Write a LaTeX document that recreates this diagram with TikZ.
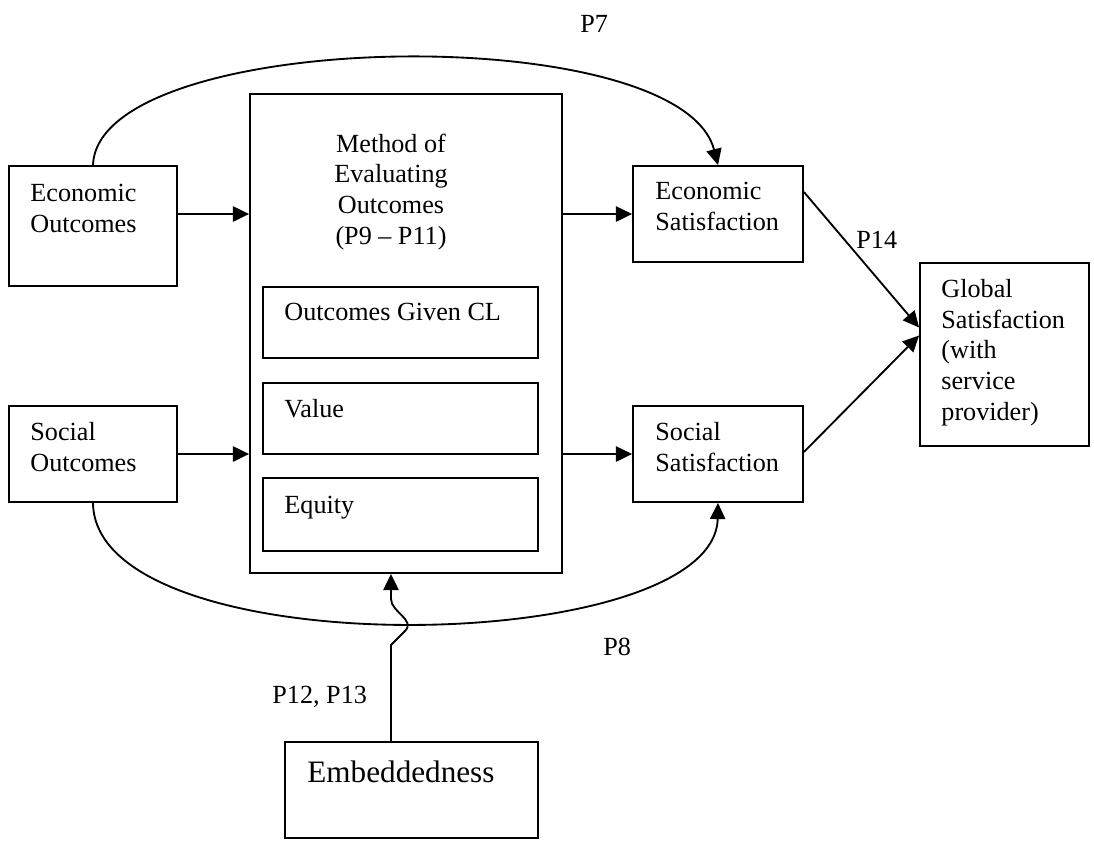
\documentclass[tikz,border=0pt]{standalone}
\usepackage{fontspec}
\setmainfont{Liberation Serif}
\usetikzlibrary{arrows.meta,fit,calc}
\begin{document}
\begin{tikzpicture}[x=0.4587pt,y=-0.4587pt,
  box/.style={draw,line width=0.85pt,inner sep=0pt},
  txt/.style={inner sep=0pt,anchor=base west,align=left,font=\fontsize{12}{14}\selectfont},
  ctxt/.style={inner sep=0pt,anchor=base,align=center,font=\fontsize{12}{14}\selectfont},
  link/.style={line width=0.85pt,-{Triangle[length=7.4pt,width=7pt]}}]
% page frame
\path[fill=white] (0,0) rectangle (1094,846);

% boxes
\node[box,fit={(9,166) (177,286)}] (eo) {};
\node[box,fit={(9,406) (177,502)}] (so) {};
\node[box,fit={(250,94) (562,573)}] (meth) {};
\node[box,fit={(263,287) (538,358)}] (ogc) {};
\node[box,fit={(263,383) (538,454)}] (val) {};
\node[box,fit={(263,478) (538,551)}] (eq) {};
\node[box,fit={(633,166) (803,262)}] (es) {};
\node[box,fit={(633,406) (803,502)}] (ss) {};
\node[box,fit={(920,263) (1089,446)}] (gs) {};
\node[box,fit={(285,742) (538,838)}] (emb) {};

% box texts (multi-line nodes are placed by the baseline of their last line)
\node[txt] (teo) at (30,232) {Economic\\Outcomes};
\node[txt] (tso) at (30,471) {Social\\Outcomes};
\node[ctxt] (tmeth) at (391,244) {Method of\\Evaluating\\Outcomes\\(P9 – P11)};
\node[txt] (togc) at (284,320) {Outcomes Given CL};
\node[txt] (tval) at (284,417) {Value};
\node[txt] (teq) at (284,513) {Equity};
\node[txt] (tes) at (655,230) {Economic\\Satisfaction};
\node[txt] (tss) at (655,471) {Social\\Satisfaction};
\node[txt] (tgs) at (941,420) {Global\\Satisfaction\\(with\\service\\provider)};
\node[txt,font=\fontsize{14.3}{17}\selectfont] (temb) at (307,782) {Embeddedness};

% path labels
\node[txt] (p7) at (580,32) {P7};
\node[txt] (p14) at (856,248) {P14};
\node[txt] (p8) at (603,655) {P8};
\node[txt] (p12) at (272,703) {P12, P13};

% straight connectors
\draw[link] (eo.east |- es.west) -- (meth.west |- es.west);
\draw[link] (meth.east |- es.west) -- (es.west);
\draw[link] (so.east |- ss.west) -- (meth.west |- ss.west);
\draw[link] (meth.east |- ss.west) -- (ss.west);
\draw[link] ($(es.east)+(0,-22)$) -- ($(gs.west)+(0,-27)$);
\draw[link] ($(ss.east)+(0,-2)$) -- ($(gs.west)+(0,-19)$);

% curved connectors
\draw[link] (eo.north) .. controls (98,28) and (680,18) .. (es.north);
\draw[link] (so.south) .. controls (95,668) and (715,658) .. (ss.south);

% embeddedness link, hopping over the lower curve
\coordinate (e0) at ($(emb.north)+(-20.5,0)$);
\draw[link] (e0) -- (391,645) -- (405,631)
  .. controls (416,620) and (391,612) .. (391,599) -- (meth.south -| e0);
\end{tikzpicture}
\end{document}
